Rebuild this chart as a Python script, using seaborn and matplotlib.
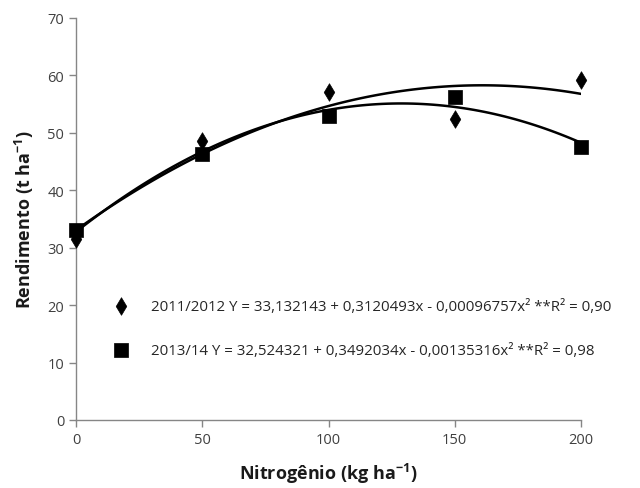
import matplotlib
matplotlib.use("Agg")
import matplotlib.pyplot as plt
import seaborn as sns
import pandas as pd

nitrogen = [0, 50, 100, 150, 200]
yield_2011 = [31.5, 48.6, 57.2, 52.5, 59.2]
yield_2013 = [33.1, 46.4, 53.0, 56.2, 47.6]
labels = [
    "2011/2012 Y = 33,132143 + 0,3120493x - 0,00096757x² **R² = 0,90",
    "2013/14 Y = 32,524321 + 0,3492034x - 0,00135316x² **R² = 0,98",
]

df = pd.DataFrame({
    "N": nitrogen * 2,
    "Y": yield_2011 + yield_2013,
    "season": [labels[0]] * 5 + [labels[1]] * 5,
})

sns.set_theme(style="white")
plt.rcParams["font.family"] = ["Open Sans", "DejaVu Sans"]
plt.rcParams["mathtext.fontset"] = "custom"
plt.rcParams["mathtext.rm"] = "Open Sans"
plt.rcParams["mathtext.bf"] = "Open Sans:bold"

fig = plt.figure(figsize=(6.4, 4.89), dpi=100)
ax = fig.add_axes([76 / 640, 1 - 421 / 489, 505 / 640, 402 / 489])

for lab in labels:
    sub = df[df["season"] == lab]
    sns.regplot(data=sub, x="N", y="Y", order=2, ci=None, scatter=False,
                ax=ax, line_kws=dict(color="black", lw=1.8), truncate=True)

for lab, mk, sz in [(labels[0], "d", 80), (labels[1], "s", 100)]:
    sub = df[df["season"] == lab]
    sns.scatterplot(data=sub, x="N", y="Y", marker=mk, color="black", s=sz,
                    edgecolor="black", linewidth=0.5, ax=ax, clip_on=False,
                    zorder=5, label=lab)

ax.set_xlim(0, 200)
ax.set_ylim(0, 70)
ax.set_xticks([0, 50, 100, 150, 200])
ax.set_yticks(range(0, 71, 10))
for s in ["top", "right"]:
    ax.spines[s].set_visible(False)
for s in ["left", "bottom"]:
    ax.spines[s].set_color("#868686")
    ax.spines[s].set_linewidth(1.0)
ax.tick_params(axis="both", which="major", direction="out", length=5, width=1.0,
               color="#868686", labelcolor="#404040", labelsize=10.5, bottom=True, left=True)

ax.set_xlabel(r"Nitrogênio (kg ha$^{\mathbf{-1}}$)", fontsize=13, fontweight="bold",
              color="#1a1a1a", labelpad=10)
ax.set_ylabel(r"Rendimento (t ha$^{\mathbf{-1}}$)", fontsize=13, fontweight="bold",
              color="#1a1a1a", labelpad=8)

leg = ax.legend(loc="upper left", bbox_to_anchor=(0.032, 0.335), frameon=False,
                fontsize=10.8, labelspacing=1.95, handletextpad=1.0, markerscale=1.0)
for t in leg.get_texts():
    t.set_color("#262626")

fig.savefig("out.png", dpi=100)
